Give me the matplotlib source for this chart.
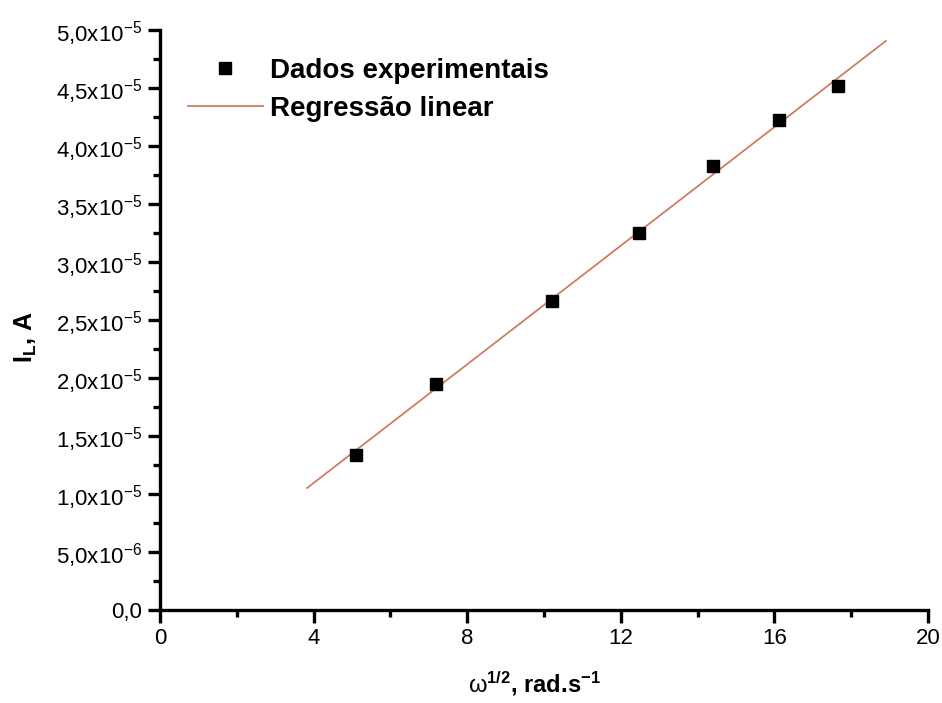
import numpy as np
import matplotlib
matplotlib.use("Agg")
import matplotlib.pyplot as plt

plt.rcParams['font.family'] = ['Liberation Sans', 'DejaVu Sans']
plt.rcParams['mathtext.fontset'] = 'custom'
plt.rcParams['mathtext.rm'] = 'Liberation Sans'
plt.rcParams['mathtext.it'] = 'Liberation Sans:italic'
plt.rcParams['mathtext.bf'] = 'Liberation Sans:bold'

# pontos medidos
omega_raiz = [5.10, 7.19, 10.21, 12.47, 14.40, 16.12, 17.66]
corrente = [13.4e-6, 19.5e-6, 26.6e-6, 32.5e-6, 38.3e-6, 42.2e-6, 45.2e-6]

# intervalo da reta ajustada
faixa_reta = [3.83, 18.9]

xticks = [0, 4, 8, 12, 16, 20]
yticks = [0, 5e-6, 1e-5, 1.5e-5, 2e-5, 2.5e-5, 3e-5, 3.5e-5, 4e-5, 4.5e-5, 5e-5]
yticks_rotulos = ['0,0', '5,0x10$^{-6}$', '1,0x10$^{-5}$', '1,5x10$^{-5}$',
                  '2,0x10$^{-5}$', '2,5x10$^{-5}$', '3,0x10$^{-5}$', '3,5x10$^{-5}$',
                  '4,0x10$^{-5}$', '4,5x10$^{-5}$', '5,0x10$^{-5}$']

coef = np.polyfit(omega_raiz, corrente, 1)
xr = np.array(faixa_reta)
yr = np.polyval(coef, xr)

fig = plt.figure(figsize=(9.42, 7.03), dpi=100)
ax = fig.add_axes([0.1699, 0.1323, 0.8153, 0.825])

ax.plot(omega_raiz, corrente, 's', color='black', ms=9, label='Dados experimentais', zorder=3)
ax.plot(xr, yr, '-', color='#cf7d62', lw=1.3, label='Regressão linear', zorder=2)

ax.set_xlim(0, 20)
ax.set_ylim(0, 5e-5)
ax.set_xticks(xticks)
ax.set_xticks([2, 6, 10, 14, 18], minor=True)
ax.set_yticks(yticks)
ax.set_yticklabels(yticks_rotulos)
ax.set_yticks(np.arange(2.5e-6, 5e-5, 5e-6), minor=True)

for lado in ['top', 'right']:
    ax.spines[lado].set_visible(False)
for lado in ['left', 'bottom']:
    ax.spines[lado].set_linewidth(2.4)

ax.tick_params(which='major', direction='out', length=9, width=2.4, labelsize=16, pad=4)
ax.tick_params(which='minor', direction='out', length=5, width=2.4)

# omega em peso normal, resto em negrito
ax.set_xlabel('ω$^{\\mathbf{1/2}}$$\\mathbf{{,}\\ rad.\\!s}^{\\mathbf{-1}}$', fontsize=17)
ax.set_ylabel(r'I$_{\mathbf{L}}$, A', fontsize=18, fontweight='bold')
ax.xaxis.set_label_coords(0.488, -0.103)
ax.yaxis.set_label_coords(-0.158, 0.47)

leg = ax.legend(loc='upper left', bbox_to_anchor=(0.036, 0.952), frameon=False,
                prop={'weight': 'bold', 'size': 20}, handlelength=2.7,
                handletextpad=0.25, labelspacing=0.42, borderpad=0, borderaxespad=0)

fig.savefig('out.png', dpi=100)
